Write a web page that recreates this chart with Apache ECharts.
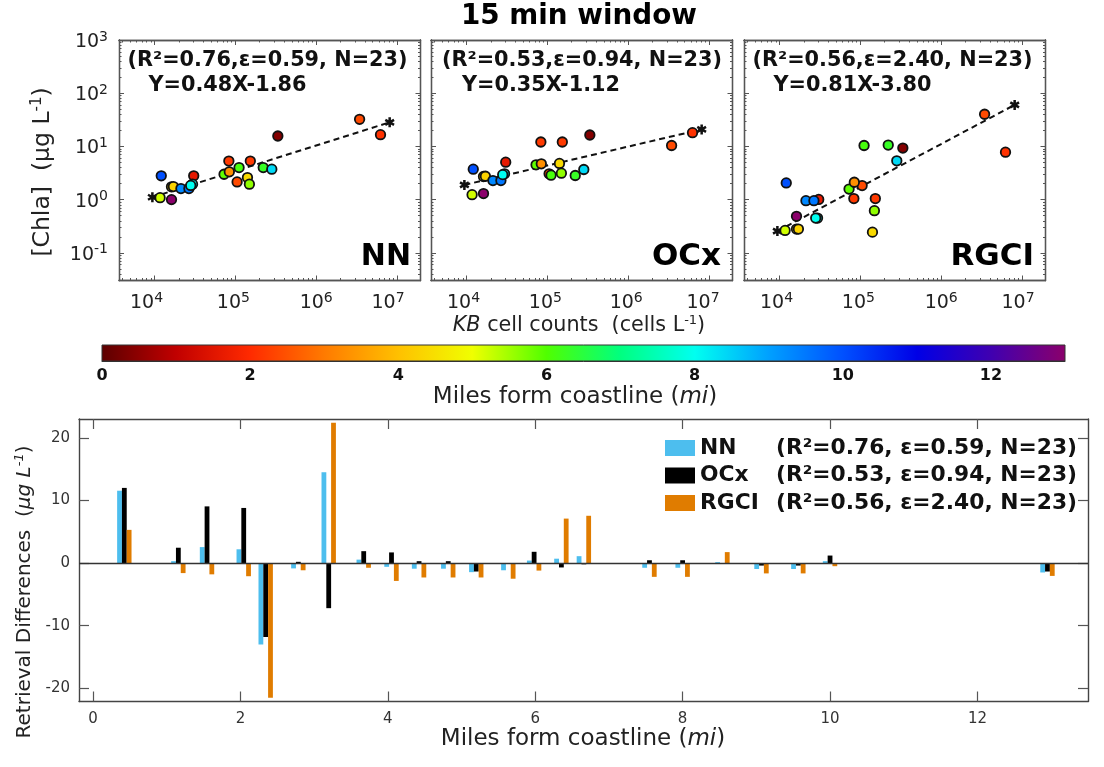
<!DOCTYPE html>
<html><head><meta charset="utf-8">
<style>html,body{margin:0;padding:0;background:#fff}#c{width:1104px;height:767px}</style>
<script src="https://cdn.jsdelivr.net/npm/echarts@6/dist/echarts.min.js"></script>
</head><body><div id="c"></div>
<script>
// ---- scatter data (same order in all panels)
const cellCounts = [335000,30500,83000,153000,3440000,6240000,105000,72400,84100,111000,16200,17100,141000,11700,149000,221000,21200,26600,12100,29500,28000,282000,16200];
const pointMiles = [0.4,1.6,2.2,2.2,2.4,2.1,2.4,5.9,3.3,6.1,4.2,4.3,4.4,5.2,5.6,6.3,9.3,9.5,10,8.0,8.0,8.4,13];
const chlaNN   = [15.7,2.8,5.3,5.3,32.3,16.6,2.15,3.0,3.33,4.0,1.74,1.76,2.6,1.09,1.95,4.0,1.61,1.61,2.8,1.95,1.85,3.73,1.0];
const chlaOCx  = [16.4,5.06,12.1,12.1,10.4,18.1,3.05,4.5,4.7,2.88,2.72,2.75,4.78,1.24,3.14,2.84,2.28,2.28,3.73,3.05,2.95,3.68,1.3];
const chlaRGCI = [9.3,1.01,1.045,1.045,40.2,7.8,1.84,1.58,2.12,10.4,0.28,0.28,0.245,0.264,0.62,10.6,0.955,0.955,2.06,0.45,0.45,5.37,0.485];
const fitX = [9400,8100000];
const fitNN = [1.11,28.4];
const fitOCx = [1.89,20.9];
const fitRGCI = [0.256,60.3];
const panelNames = ['NN','OCx','RGCI'];
const panelStats = ['(R²=0.76,ε=0.59, N=23)','(R²=0.53,ε=0.94, N=23)','(R²=0.56,ε=2.40, N=23)'];
const panelFits = ['Y=0.48X-1.86','Y=0.35X-1.12','Y=0.81X-3.80'];
const legendStats = ['(R²=0.76, ε=0.59, N=23)','(R²=0.53, ε=0.94, N=23)','(R²=0.56, ε=2.40, N=23)'];
// ---- bar data
const barMiles = [0.425,1.158,1.547,2.045,2.343,2.786,3.198,3.673,4.05,4.424,4.82,5.2,5.635,5.985,6.355,6.66,7.55,8.0,8.54,9.07,9.57,10.0,12.95];
const diffNN   = [11.55,0.3,2.55,2.2,-13,-0.85,14.5,0.55,-0.6,-0.9,-0.9,-1.45,-1.15,0.4,0.7,1.1,-0.75,-0.75,0.15,-0.95,-0.95,0.3,-1.5];
const diffOCx  = [12.0,2.45,9.05,8.8,-11.8,0.2,-7.2,1.9,1.7,0.3,0.3,-1.35,0,1.8,-0.7,-0.2,0.45,0.45,-0.05,-0.4,-0.4,1.2,-1.35];
const diffRGCI = [5.3,-1.6,-1.8,-2.1,-21.5,-1.15,22.4,-0.75,-2.85,-2.3,-2.3,-2.3,-2.5,-1.2,7.1,7.55,-2.2,-2.2,1.75,-1.65,-1.65,-0.5,-2.05];
// ---- ticks
const xDecades = [1e4,1e5,1e6,1e7];
const yDecades = [0.1,1,10,100,1000];
const barXTicks = [0,2,4,6,8,10,12];
const barYTicks = [-20,-10,0,10,20];
const barColors = ['#4dbeee','#000000','#e07c00'];
const colorbarTicks = [2,4,6,8,10,12];
const colormap = ['#5c0000','#c00000','#ff2a00','#ff7a00','#ffc000','#f0ff00','#50ff00','#00ff80','#00fff0','#00a0ff','#0050ff','#0000e6','#4000b0','#8b006b'];
// the reference draws its decade labels slightly left of their ticks (in px)
const labelNudge = [[-8,-2,0,-9],[-3,-2,-2,-6],[-3,-2,0,-4]];

const FONT='DejaVu Sans', AX='#555';
const XMIN=Math.pow(10,3.56), XMAX=Math.pow(10,7.29), YMIN=Math.pow(10,-1.52), YMAX=1000;
function minors(lo,hi){const r=[];for(let e=lo;e<=hi;e++)for(let m=2;m<=9;m++)r.push(+(m+'e'+e));return r;}
const xMinor=minors(3,7).filter(v=>v>XMIN&&v<XMAX), yMinor=minors(-2,2).filter(v=>v>YMIN&&v<YMAX);
const supLabel={fontFamily:FONT,fontSize:19,color:'#222',
  formatter:v=>'10{s|'+Math.round(Math.log10(v))+'}',
  rich:{s:{fontFamily:FONT,fontSize:14,color:'#222',verticalAlign:'top',padding:[0,0,10,0]}}};

const grid=[],xAxis=[],yAxis=[],series=[],graphic=[];
const lefts=[119,431,744];
const chla=[chlaNN,chlaOCx,chlaRGCI], fits=[fitNN,fitOCx,fitRGCI];
const star='path://M15 0L15 24L9 24L9 0ZM23.89 15.4L20.89 20.6L.11 8.6L3.11 3.4ZM20.89 3.4L23.89 8.6L3.11 20.6L.11 15.4Z';

function txt(x,y,text,size,opt){opt=opt||{};
  graphic.push({type:'text',x,y,rotation:opt.rot||0,z:20,style:{text,fontFamily:FONT,fontSize:size,fontWeight:opt.w||'normal',fill:opt.c||'#222',
    align:opt.a||'center',verticalAlign:'middle',rich:opt.rich}});}
const supRich=s=>({i:{fontFamily:FONT,fontSize:s,fontStyle:'italic',fill:'#222',verticalAlign:'middle'},
  s:{fontFamily:FONT,fontSize:Math.round(s*0.65),fill:'#222',verticalAlign:'top',padding:[0,0,Math.round(s*0.5),0]},
  si:{fontFamily:FONT,fontSize:Math.round(s*0.65),fontStyle:'italic',fill:'#222',verticalAlign:'top',padding:[0,0,Math.round(s*0.5),0]}});

lefts.forEach((L,p)=>{
  grid.push({left:L,top:40,width:301.5,height:240.5,containLabel:false});
  const gi=grid.length-1, x0=xAxis.length, y0=yAxis.length;
  const mk=(o)=>Object.assign({gridIndex:gi,splitLine:{show:false},axisLabel:{show:false},axisPointer:{show:false}},o);
  const labelVals=xDecades.map((v,i)=>v*Math.pow(10,labelNudge[p][i]/80.9));
  [['bottom',xDecades,5,true],['top',xDecades,5,false],['bottom',xMinor,2.5,false],['top',xMinor,2.5,false]].forEach(a=>{
    xAxis.push(mk({type:'log',min:XMIN,max:XMAX,position:a[0],
      axisLine:{show:true,onZero:false,lineStyle:{color:AX,width:1.3}},
      axisTick:{show:true,inside:true,length:a[2],customValues:a[1],lineStyle:{color:AX,width:1}},
      axisLabel:a[3]?Object.assign({show:true,customValues:labelVals,margin:11},supLabel):{show:false}}));
  });
  [['left',yDecades,5,p===0],['right',yDecades,5,false],['left',yMinor,2.5,false],['right',yMinor,2.5,false]].forEach(a=>{
    yAxis.push(mk({type:'log',min:YMIN,max:YMAX,position:a[0],
      axisLine:{show:true,onZero:false,lineStyle:{color:AX,width:1.3}},
      axisTick:{show:true,inside:true,length:a[2],customValues:a[1],lineStyle:{color:AX,width:1}},
      axisLabel:a[3]?Object.assign({show:true,customValues:yDecades,margin:11,padding:[4,0,0,0]},supLabel):{show:false}}));
  });
  series.push({type:'line',name:'fit'+p,xAxisIndex:x0,yAxisIndex:y0,z:2,silent:true,
    data:fitX.map((x,i)=>[x,fits[p][i]]),symbol:star,symbolSize:10,showSymbol:true,showAllSymbol:true,
    itemStyle:{color:'#111'},lineStyle:{color:'#111',width:2,type:[6,4]},animation:false});
  series.push({type:'scatter',name:'pts'+p,xAxisIndex:x0,yAxisIndex:y0,z:3,symbolSize:9.5,
    data:cellCounts.map((x,i)=>[x,chla[p][i],pointMiles[i]]),
    itemStyle:{borderColor:'#111',borderWidth:1.8,opacity:1},animation:false});
  txt(L+[148.5,151,148.5][p],61,panelStats[p],20.8,{w:'bold',c:'#111'});
  txt(L+[108.5,110,108.5][p],86,panelFits[p],20.8,{w:'bold',c:'#111'});
  txt(L+[292,290,290][p],257,panelNames[p],[30,31,31][p],{w:'bold',c:'#000',a:'right'});
});
const scatterIdx=[1,3,5];

// colorbar
grid.push({left:102,top:345,width:963,height:16});
const cg=grid.length-1, cx=xAxis.length, cy=yAxis.length;
xAxis.push({gridIndex:cg,type:'value',min:0,max:13,position:'bottom',splitLine:{show:false},
  axisLine:{show:true,onZero:false,lineStyle:{color:'#333',width:1}},
  axisTick:{show:true,inside:true,length:9,customValues:colorbarTicks,lineStyle:{color:'#222',width:1}},
  axisLabel:{show:true,customValues:[0].concat(colorbarTicks),margin:7,fontFamily:FONT,fontSize:16,fontWeight:'bold',color:'#111'}});
yAxis.push({gridIndex:cg,type:'value',min:0,max:1,position:'left',splitLine:{show:false},
  axisLine:{show:false},axisTick:{show:false},axisLabel:{show:false}});
series.push({type:'custom',name:'colorbar',xAxisIndex:cx,yAxisIndex:cy,silent:true,z:1,data:[[0,13]],animation:false,
  renderItem:(params,api)=>{const a=api.coord([api.value(0),0]),b=api.coord([api.value(1),1]);
    return {type:'rect',shape:{x:a[0],y:b[1],width:b[0]-a[0],height:a[1]-b[1]},
      style:{stroke:'#333',lineWidth:1,fill:{type:'linear',x:0,y:0,x2:1,y2:0,
        colorStops:colormap.map((c,i)=>({offset:i/(colormap.length-1),color:c}))}}};},
  encode:{x:[0,1]}});

// bars
grid.push({left:79,top:419,width:1009,height:282.5});
const bg=grid.length-1;
const bx=xAxis.length, by=yAxis.length;
const bAxisCommon={gridIndex:bg,type:'value',splitLine:{show:false},axisLine:{show:true,onZero:false,lineStyle:{color:'#444',width:1.4}}};
['bottom','top'].forEach((pos,i)=>xAxis.push(Object.assign({},bAxisCommon,{min:-0.19,max:13.5,position:pos,
  axisTick:{show:true,inside:true,length:10,customValues:barXTicks,lineStyle:{color:'#555',width:1.2}},
  axisLabel:i===0?{show:true,customValues:barXTicks,margin:10,fontFamily:FONT,fontSize:15,color:'#333'}:{show:false}})));
['left','right'].forEach((pos,i)=>yAxis.push(Object.assign({},bAxisCommon,{min:-22.1,max:23,position:pos,
  axisTick:{show:true,inside:true,length:10,customValues:barYTicks,lineStyle:{color:'#555',width:1.2}},
  axisLabel:i===0?{show:true,customValues:barYTicks,margin:9,fontFamily:FONT,fontSize:15,color:'#333'}:{show:false}})));
[diffNN,diffOCx,diffRGCI].forEach((d,i)=>{
  const s={type:'bar',name:panelNames[i],xAxisIndex:bx,yAxisIndex:by,barWidth:4.8,barGap:'0%',z:4,
    data:barMiles.map((x,k)=>[x,d[k]]),itemStyle:{color:barColors[i]},animation:false};
  if(i===0) s.markLine={silent:true,symbol:'none',animation:false,label:{show:false},z:5,
    lineStyle:{color:'#333',width:1.3,type:'solid'},data:[{yAxis:0}]};
  series.push(s);
});

txt(579,17,'15 min window',27.8,{w:'bold',c:'#000'});
txt(43,172,'[Chla]  (μg L{s|-1})',23.5,{rot:Math.PI/2,rich:supRich(23.5)});
txt(579,326,'{i|KB} cell counts  (cells L{s|-1})',20.7,{rich:supRich(20.7)});
txt(575,397,'Miles form coastline ({i|mi})',23,{rich:supRich(23)});
txt(25,592,'Retrieval Differences  ({i|μg L}{si|-1})',20,{rot:Math.PI/2,rich:supRich(20)});
txt(583,739,'Miles form coastline ({i|mi})',23,{rich:supRich(23)});

const chart=echarts.init(document.getElementById('c'),null,{renderer:'canvas'});
chart.setOption({backgroundColor:'#fff',animation:false,grid,xAxis,yAxis,series,graphic:{elements:graphic},
  visualMap:{show:false,type:'continuous',min:0,max:13,dimension:2,seriesIndex:scatterIdx,inRange:{color:colormap}},
  legend:{left:660,top:432,orient:'vertical',icon:'rect',itemWidth:30,itemHeight:16,itemGap:5.5,data:panelNames,selectedMode:false,
    formatter:n=>'{n|'+n+'}{s|'+legendStats[panelNames.indexOf(n)]+'}',
    textStyle:{rich:{n:{fontFamily:FONT,fontSize:21.8,lineHeight:21,fontWeight:'bold',color:'#111',width:76},s:{fontFamily:FONT,fontSize:21.8,lineHeight:21,fontWeight:'bold',color:'#111'}}}}
});
</script></body></html>
